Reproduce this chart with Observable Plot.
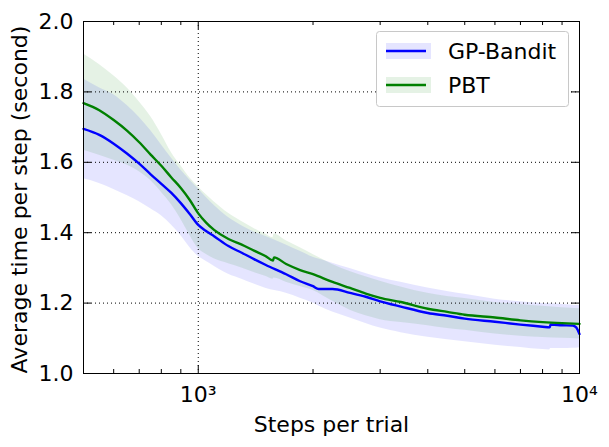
<!DOCTYPE html>
<html>
<head>
<meta charset="utf-8">
<script src="https://cdn.jsdelivr.net/npm/d3@7"></script>
<script src="https://cdn.jsdelivr.net/npm/@observablehq/plot@0.6"></script>
<style>
  html, body { margin: 0; padding: 0; background: white; }
  #chart { width: 609px; height: 447px; }
</style>
</head>
<body>
<div id="chart"></div>
<script>
// ---- Data ----
const seriesNames = ["GP-Bandit", "PBT"];
const seriesColors = ["#0000ff", "#008000"];

const banditSteps = [500, 550, 600, 650, 700, 750, 800, 850, 900, 950, 1000, 1050, 1100, 1200, 1300, 1400, 1500, 1700, 1850, 2000, 2070, 2250, 2500, 2750, 3000, 3400, 4000, 4500, 5000, 6000, 7000, 8000, 8350, 8400, 9000, 9600, 9800, 10000];
const banditMean  = [1.695, 1.678, 1.653, 1.625, 1.596, 1.566, 1.539, 1.513, 1.484, 1.453, 1.422, 1.404, 1.390, 1.362, 1.343, 1.325, 1.309, 1.282, 1.262, 1.248, 1.240, 1.240, 1.229, 1.218, 1.205, 1.190, 1.172, 1.164, 1.156, 1.147, 1.139, 1.133, 1.131, 1.139, 1.137, 1.136, 1.131, 1.112];
const banditUpper = [1.837, 1.812, 1.792, 1.762, 1.728, 1.690, 1.650, 1.612, 1.578, 1.550, 1.525, 1.500, 1.478, 1.443, 1.420, 1.402, 1.390, 1.365, 1.347, 1.330, 1.325, 1.313, 1.298, 1.284, 1.272, 1.259, 1.243, 1.233, 1.225, 1.211, 1.204, 1.199, 1.198, 1.198, 1.196, 1.194, 1.193, 1.193];
const banditLower = [1.553, 1.540, 1.523, 1.506, 1.488, 1.468, 1.448, 1.422, 1.392, 1.358, 1.333, 1.318, 1.305, 1.282, 1.268, 1.254, 1.242, 1.228, 1.214, 1.200, 1.192, 1.175, 1.158, 1.142, 1.129, 1.116, 1.103, 1.096, 1.090, 1.080, 1.074, 1.068, 1.067, 1.071, 1.071, 1.072, 1.072, 1.073];

const pbtSteps = [500, 550, 600, 650, 700, 750, 800, 850, 900, 950, 1000, 1050, 1100, 1200, 1300, 1400, 1500, 1570, 1580, 1700, 1850, 2000, 2250, 2500, 2750, 3000, 3400, 4000, 4500, 5000, 6000, 7000, 8000, 9000, 10000];
const pbtMean  = [1.768, 1.748, 1.720, 1.690, 1.657, 1.622, 1.590, 1.557, 1.527, 1.493, 1.455, 1.428, 1.408, 1.382, 1.366, 1.349, 1.334, 1.321, 1.330, 1.311, 1.294, 1.282, 1.260, 1.243, 1.227, 1.215, 1.203, 1.184, 1.175, 1.167, 1.159, 1.151, 1.146, 1.143, 1.141];
const pbtUpper = [1.908, 1.878, 1.846, 1.812, 1.772, 1.730, 1.680, 1.628, 1.590, 1.556, 1.530, 1.508, 1.488, 1.455, 1.432, 1.412, 1.396, 1.386, 1.396, 1.377, 1.357, 1.338, 1.310, 1.290, 1.275, 1.262, 1.246, 1.228, 1.219, 1.213, 1.202, 1.196, 1.191, 1.187, 1.184];
const pbtLower = [1.634, 1.620, 1.606, 1.592, 1.573, 1.548, 1.515, 1.480, 1.438, 1.393, 1.355, 1.338, 1.326, 1.312, 1.300, 1.287, 1.276, 1.268, 1.271, 1.259, 1.247, 1.236, 1.205, 1.180, 1.164, 1.153, 1.145, 1.136, 1.128, 1.123, 1.112, 1.106, 1.102, 1.100, 1.098];

const xMajorTicks = [1000, 10000];
const xMinorTicks = [600, 700, 800, 900, 2000, 3000, 4000, 5000, 6000, 7000, 8000, 9000];
const yTicks = [1.0, 1.2, 1.4, 1.6, 1.8, 2.0];
const yGrid = [1.2, 1.4, 1.6, 1.8];
const xGrid = [1000];
const xLabel = "Steps per trial";
const yLabel = "Average time per step (second)";

// ---- Build tables ----
const bandit = banditSteps.map((s, i) => ({s, m: banditMean[i], hi: banditUpper[i], lo: banditLower[i]}));
const pbt = pbtSteps.map((s, i) => ({s, m: pbtMean[i], hi: pbtUpper[i], lo: pbtLower[i]}));

const W = 609, H = 447;
const mL = 83, mR = 30, mT = 21, mB = 74;
const innerW = W - mL - mR, innerH = H - mT - mB;
const FONT = "DejaVu Sans";
const FS = 22;
const sup = {"0":"⁰","1":"¹","2":"²","3":"³","4":"⁴","5":"⁵","6":"⁶","7":"⁷","8":"⁸","9":"⁹"};
const CURVE = "monotone-x";

const svg = Plot.plot({
  width: W, height: H,
  marginLeft: mL, marginRight: mR, marginTop: mT, marginBottom: mB,
  x: {type: "log", domain: [500, 10000]},
  y: {domain: [1, 2]},
  style: {fontFamily: FONT, fontSize: FS + "px", background: "white", color: "black"},
  marks: [
    Plot.areaY(bandit, {x: "s", y1: "lo", y2: "hi", fill: seriesColors[0], fillOpacity: 0.1, curve: CURVE}),
    Plot.areaY(pbt, {x: "s", y1: "lo", y2: "hi", fill: seriesColors[1], fillOpacity: 0.1, curve: CURVE}),
    Plot.ruleY(yGrid, {stroke: "black", strokeWidth: 1, strokeDasharray: "1,3"}),
    Plot.ruleX(xGrid, {stroke: "black", strokeWidth: 1, strokeDasharray: "1,3"}),
    Plot.line(bandit, {x: "s", y: "m", stroke: seriesColors[0], strokeWidth: 2.4, curve: CURVE}),
    Plot.line(pbt, {x: "s", y: "m", stroke: seriesColors[1], strokeWidth: 2.4, curve: CURVE}),
    // inward ticks (matplotlib classic style)
    Plot.tickX(xMinorTicks, {x: d => d, stroke: "black", insetTop: innerH - 4}),
    Plot.tickX(xMinorTicks, {x: d => d, stroke: "black", insetBottom: innerH - 4}),
    Plot.tickX(xMajorTicks, {x: d => d, stroke: "black", insetTop: innerH - 8}),
    Plot.tickX(xMajorTicks, {x: d => d, stroke: "black", insetBottom: innerH - 8}),
    Plot.tickY(yTicks, {y: d => d, stroke: "black", insetRight: innerW - 8}),
    Plot.tickY(yTicks, {y: d => d, stroke: "black", insetLeft: innerW - 8}),
    Plot.axisX(xMajorTicks, {tickSize: 0, tickPadding: 13, label: null, fontSize: FS,
      tickFormat: d => "10" + String(Math.round(Math.log10(d))).split("").map(c => sup[c]).join("")}),
    Plot.axisY(yTicks, {tickSize: 0, tickPadding: 10, label: null, fontSize: FS, tickFormat: d3.format(".1f")}),
    Plot.text([xLabel], {frameAnchor: "bottom", dy: 51, lineAnchor: "middle", textAnchor: "middle", text: d => d, fontSize: FS}),
    Plot.text([yLabel], {frameAnchor: "left", dx: -64, dy: 2, rotate: -90, lineAnchor: "middle", textAnchor: "middle", text: d => d, fontSize: FS}),
    Plot.frame({stroke: "black", strokeWidth: 1})
  ]
});

// ---- Legend (inside the plot, upper right) ----
const g = d3.select(svg).append("g").attr("font-family", FONT).attr("font-size", FS).attr("text-anchor", "start");
g.append("rect").attr("x", 376.5).attr("y", 31.5).attr("width", 192).attr("height", 75)
  .attr("rx", 3).attr("fill", "white").attr("stroke", "#c8c8c8").attr("stroke-width", 1);
seriesNames.forEach((name, i) => {
  const cy = 51 + i * 34;
  g.append("rect").attr("x", 386).attr("y", cy - 8).attr("width", 45).attr("height", 16)
    .attr("fill", seriesColors[i]).attr("fill-opacity", 0.1);
  g.append("line").attr("x1", 386).attr("x2", 426).attr("y1", cy).attr("y2", cy)
    .attr("stroke", seriesColors[i]).attr("stroke-width", 2.4);
  g.append("text").attr("x", 448).attr("y", cy + 8).attr("fill", "black").attr("text-anchor", "start").text(name);
});

document.getElementById("chart").appendChild(svg);
</script>
</body>
</html>
